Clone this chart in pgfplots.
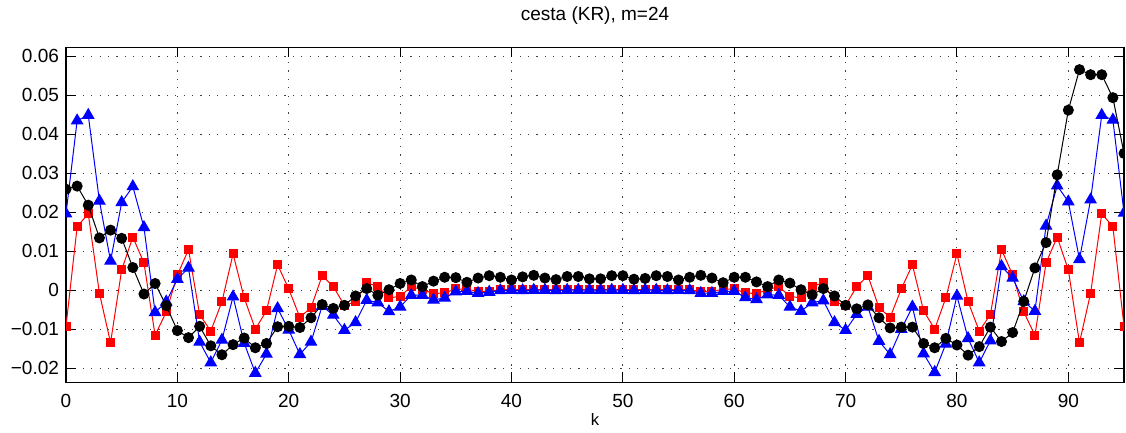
\documentclass[border=0pt]{standalone}
\usepackage{fontspec}
\setmainfont{Liberation Sans}
\usepackage{pgfplots}
\pgfplotsset{compat=1.18}
\begin{document}
\begin{tikzpicture}
\begin{axis}[
  scale only axis,
  width=529pt, height=167.5pt,
  xmin=0, xmax=95,
  ymin=-0.0237, ymax=0.0623,
  scaled y ticks=false,
  scaled x ticks=false,
  xtick={0,10,20,30,40,50,60,70,80,90},
  xticklabels={0,10,20,30,40,50,60,70,80,90},
  ytick={-0.02,-0.01,0,0.01,0.02,0.03,0.04,0.05,0.06},
  yticklabels={−0.02,−0.01,0,0.01,0.02,0.03,0.04,0.05,0.06},
  tick align=inside,
  major tick length=5pt,
  tick style={black, line width=0.5pt},
  axis line style={black, line width=0.6pt},
  grid=major,
  major grid style={black!75, line width=0.5pt, dash pattern=on 0.6pt off 3.6pt},
  tick label style={font=\fontsize{9.5}{11}\selectfont},
  xticklabel style={yshift=-2.4pt},
  title={cesta (KR), m=24},
  title style={font=\fontsize{9.5}{11}\selectfont, at={(axis description cs:0.5,1)}, anchor=base, yshift=7.5pt},
  xlabel={k},
  xlabel style={font=\fontsize{8.3}{10}\selectfont, at={(axis description cs:0.5,0)}, anchor=base, yshift=-21.5pt},
  clip marker paths=true,
]
\addplot[red, line width=0.5pt, mark=square*, mark size=2pt, mark options={solid, fill=red, draw=red}] coordinates {
(0,-0.0093) (1,0.0163) (2,0.0196) (3,-0.0008) (4,-0.0135) (5,0.0052) (6,0.0136) (7,0.0070) (8,-0.0116) (9,-0.0056)
(10,0.0039) (11,0.0104) (12,-0.0063) (13,-0.0105) (14,-0.0030) (15,0.0093) (16,-0.0020) (17,-0.0100) (18,-0.0053) (19,0.0065)
(20,0.0003) (21,-0.0070) (22,-0.0045) (23,0.0037) (24,0.0009) (25,-0.0039) (26,-0.0030) (27,0.0019) (28,0.0009) (29,-0.0020)
(30,-0.0016) (31,0.0009) (32,0.0001) (33,-0.0009) (34,-0.0007) (35,0.0003) (36,0.0002) (37,-0.0003) (38,-0.0003) (39,0.0001)
(40,0.0001) (41,0.0001) (42,0.0001) (43,0.0001) (44,0.0001) (45,0.0001) (46,0.0001) (47,0.0001) (48,0.0001) (49,0.0001)
(50,0.0001) (51,0.0001) (52,0.0001) (53,0.0001) (54,0.0001) (55,0.0001) (56,0.0001) (57,-0.0003) (58,-0.0003) (59,0.0002)
(60,0.0003) (61,-0.0007) (62,-0.0009) (63,0.0001) (64,0.0009) (65,-0.0016) (66,-0.0020) (67,0.0009) (68,0.0019) (69,-0.0030)
(70,-0.0039) (71,0.0009) (72,0.0037) (73,-0.0045) (74,-0.0070) (75,0.0003) (76,0.0065) (77,-0.0053) (78,-0.0100) (79,-0.0020)
(80,0.0093) (81,-0.0030) (82,-0.0105) (83,-0.0063) (84,0.0104) (85,0.0039) (86,-0.0056) (87,-0.0116) (88,0.0070) (89,0.0136)
(90,0.0052) (91,-0.0135) (92,-0.0008) (93,0.0196) (94,0.0163) (95,-0.0093)
};
\addplot[blue, line width=0.5pt, mark=triangle*, mark size=3.2pt, mark options={solid, fill=blue, draw=blue}] coordinates {
(0,0.0196) (1,0.0435) (2,0.0449) (3,0.0229) (4,0.0075) (5,0.0225) (6,0.0266) (7,0.0161) (8,-0.0057) (9,-0.0030)
(10,0.0028) (11,0.0057) (12,-0.0133) (13,-0.0186) (14,-0.0128) (15,-0.0017) (16,-0.0136) (17,-0.0213) (18,-0.0164) (19,-0.0047)
(20,-0.0102) (21,-0.0165) (22,-0.0133) (23,-0.0041) (24,-0.0064) (25,-0.0103) (26,-0.0083) (27,-0.0026) (28,-0.0032) (29,-0.0055)
(30,-0.0043) (31,-0.0013) (32,-0.0013) (33,-0.0025) (34,-0.0020) (35,-0.0004) (36,-0.0003) (37,-0.0008) (38,-0.0005) (39,-0.0001)
(40,0.0000) (41,-0.0001) (42,0.0000) (43,0.0000) (44,-0.0001) (45,0.0000) (46,0.0000) (47,0.0000) (48,0.0000) (49,0.0000)
(50,0.0000) (51,-0.0001) (52,0.0000) (53,0.0000) (54,-0.0001) (55,0.0000) (56,-0.0001) (57,-0.0008) (58,-0.0008) (59,-0.0003)
(60,-0.0003) (61,-0.0019) (62,-0.0024) (63,-0.0012) (64,-0.0013) (65,-0.0043) (66,-0.0054) (67,-0.0032) (68,-0.0027) (69,-0.0083)
(70,-0.0103) (71,-0.0062) (72,-0.0043) (73,-0.0131) (74,-0.0165) (75,-0.0100) (76,-0.0043) (77,-0.0163) (78,-0.0211) (79,-0.0138)
(80,-0.0015) (81,-0.0124) (82,-0.0186) (83,-0.0130) (84,0.0061) (85,0.0031) (86,-0.0029) (87,-0.0054) (88,0.0165) (89,0.0268)
(90,0.0227) (91,0.0079) (92,0.0232) (93,0.0449) (94,0.0437) (95,0.0198)
};
\addplot[black, line width=0.5pt, mark=*, mark size=2.5pt, mark options={solid, fill=black, draw=black}] coordinates {
(0,0.0259) (1,0.0267) (2,0.0218) (3,0.0134) (4,0.0154) (5,0.0133) (6,0.0058) (7,-0.0010) (8,0.0017) (9,-0.0040)
(10,-0.0104) (11,-0.0122) (12,-0.0093) (13,-0.0143) (14,-0.0166) (15,-0.0140) (16,-0.0123) (17,-0.0148) (18,-0.0137) (19,-0.0094)
(20,-0.0093) (21,-0.0096) (22,-0.0071) (23,-0.0037) (24,-0.0047) (25,-0.0039) (26,-0.0015) (27,0.0004) (28,-0.0013) (29,0.0001)
(30,0.0017) (31,0.0026) (32,0.0009) (33,0.0023) (34,0.0033) (35,0.0032) (36,0.0020) (37,0.0031) (38,0.0037) (39,0.0033)
(40,0.0026) (41,0.0034) (42,0.0038) (43,0.0031) (44,0.0027) (45,0.0035) (46,0.0035) (47,0.0029) (48,0.0029) (49,0.0037)
(50,0.0037) (51,0.0028) (52,0.0030) (53,0.0037) (54,0.0035) (55,0.0026) (56,0.0033) (57,0.0038) (58,0.0031) (59,0.0019)
(60,0.0033) (61,0.0033) (62,0.0021) (63,0.0009) (64,0.0026) (65,0.0018) (66,0.0001) (67,-0.0012) (68,0.0004) (69,-0.0015)
(70,-0.0039) (71,-0.0048) (72,-0.0038) (73,-0.0071) (74,-0.0097) (75,-0.0095) (76,-0.0095) (77,-0.0137) (78,-0.0148) (79,-0.0124)
(80,-0.0141) (81,-0.0167) (82,-0.0145) (83,-0.0095) (84,-0.0132) (85,-0.0109) (86,-0.0029) (87,0.0057) (88,0.0122) (89,0.0296)
(90,0.0462) (91,0.0566) (92,0.0553) (93,0.0553) (94,0.0494) (95,0.0351)
};
\end{axis}
\path (current axis.south west) ++(-33pt,-22.5pt) coordinate (bbsw);
\path (current axis.north east) ++(1pt,22.5pt) coordinate (bbne);
\path (bbsw) rectangle (bbne);
\end{tikzpicture}
\end{document}
